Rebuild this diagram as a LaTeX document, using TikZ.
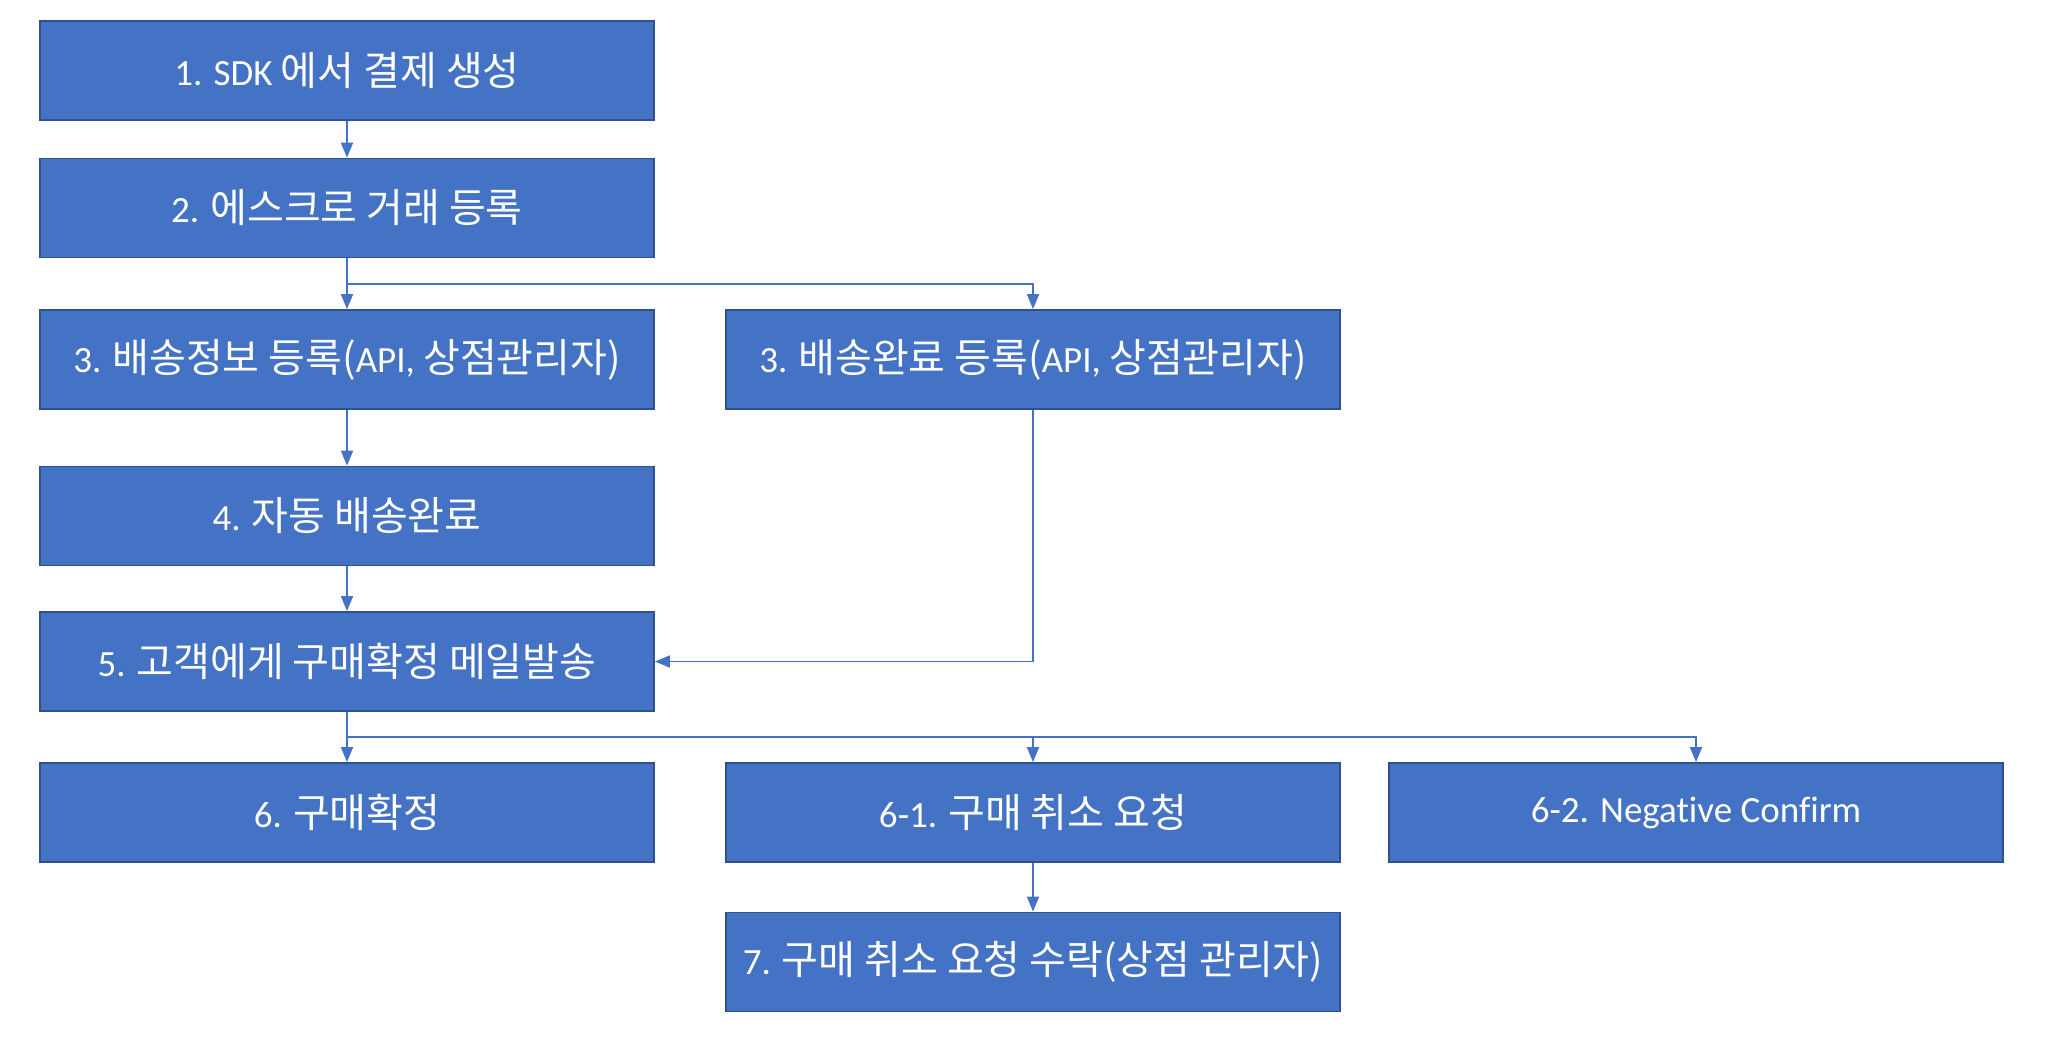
\documentclass[tikz,border=0pt]{standalone}
\usepackage{fontspec}
\setmainfont{Noto Sans CJK KR}
\newfontfamily\latfont[Ligatures=NoCommon]{Carlito}
\usepackage{tikz}
\usetikzlibrary{arrows.meta, positioning, calc}
\usepackage{xcolor}
\definecolor{boxfill}{RGB}{68,114,196}
\definecolor{boxedge}{RGB}{47,82,143}
\definecolor{linkblue}{RGB}{68,114,196}

% latin parts are set in a narrower face
\newcommand{\lt}[1]{{\latfont\fontsize{18.5}{21}\selectfont #1}}

\tikzset{
  stepbox/.style={draw=boxedge, line width=0.9pt, fill=boxfill, text=white,
    minimum width=307pt, minimum height=49.5pt, inner sep=0pt,
    font=\fontsize{20}{23}\selectfont},
  link/.style={linkblue, line width=0.8pt, -{Triangle[length=7.5pt, width=6pt]}},
}

\begin{document}
\begin{tikzpicture}[x=0.5pt, y=-0.5pt]
  \useasboundingbox (0,0) rectangle (2048,1051);
  % left column
  \node[stepbox] (s1)  at (347,70.5) {\lt{1. SDK }에서 결제 생성};
  \node[stepbox] (s2)  at (347,208)  {\lt{2. }에스크로 거래 등록};
  \node[stepbox] (s3a) at (347,359.5) {\lt{3. }배송정보 등록(\lt{API, }상점관리자)};
  \node[stepbox] (s4)  at (347,516)  {\lt{4. }자동 배송완료};
  \node[stepbox] (s5)  at (347,661.5) {\lt{5. }고객에게 구매확정 메일발송};
  \node[stepbox] (s6)  at (347,812.5) {\lt{6. }구매확정};
  % middle and right column
  \node[stepbox] (s3b) at (1033,359.5) {\lt{3. }배송완료 등록(\lt{API, }상점관리자)};
  \node[stepbox] (s61) at (1033,812.5) {\lt{6-1. }구매 취소 요청};
  \node[stepbox] (s62) at (1696,812.5) {\lt{6-2. Negative Confirm}};
  \node[stepbox] (s7)  at (1033,962)  {\lt{7. }구매 취소 요청 수락(상점 관리자)};

  \coordinate (fork1) at ($(s2.south)!0.5!(s3a.north)$);
  \coordinate (fork2) at ($(s5.south)!0.5!(s6.north)$);

  \draw[link] (s1) -- (s2);
  \draw[link] (s2) -- (s3a);
  \draw[link] (fork1) -| (s3b);
  \draw[link] (s3a) -- (s4);
  \draw[link] (s4) -- (s5);
  \draw[link] (s3b) |- (s5);
  \draw[link] (s5) -- (s6);
  \draw[link] (fork2) -| (s61);
  \draw[link] (fork2) -| (s62);
  \draw[link] (s61) -- (s7);
\end{tikzpicture}
\end{document}
